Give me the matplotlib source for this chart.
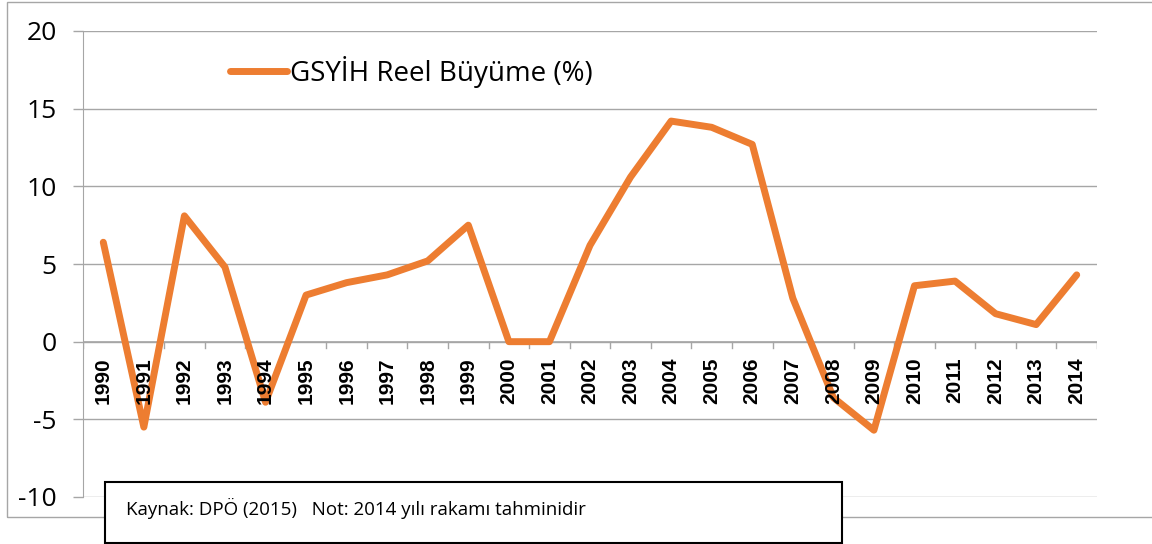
import matplotlib
matplotlib.use('Agg')
import matplotlib.pyplot as plt
from matplotlib.patches import Rectangle

# ---- data ----
years = [str(y) for y in range(1990, 2015)]
growth = [6.4, -5.5, 8.1, 4.8, -3.9, 3.0, 3.8, 4.3, 5.2, 7.5,
          0.0, 0.0, 6.2, 10.6, 14.2, 13.8, 12.7, 2.8, -3.6, -5.7,
          3.6, 3.9, 1.8, 1.1, 4.3]
y_ticks = [-10, -5, 0, 5, 10, 15, 20]
series_label = 'GSYİH Reel Büyüme (%)'
note = 'Kaynak: DPÖ (2015)   Not: 2014 yılı rakamı tahminidir'

W, H = 1152, 544
fig = plt.figure(figsize=(W / 100, H / 100), dpi=100)

# outer chart border
fig.patches.append(Rectangle((7 / W, 1 - 517 / H), 1.2, (517 - 2) / H,
                             transform=fig.transFigure, fill=False,
                             edgecolor='#a6a6a6', linewidth=1, zorder=0))

ax = fig.add_axes([83 / W, 1 - 497 / H, (1097 - 83) / W, (497 - 31) / H])
ax.set_facecolor('none')

x = list(range(len(years)))
line, = ax.plot(x, growth, color='#ed7d31', linewidth=5,
                solid_joinstyle='round', solid_capstyle='round', zorder=3)

ax.set_xlim(-0.5, len(years) - 0.5)
ax.set_ylim(-10, 20)
ax.set_yticks(y_ticks)
ax.set_yticklabels([str(v) for v in y_ticks], fontsize=19, family='Open Sans')
ax.tick_params(axis='y', length=7, width=1, color='#a6a6a6', pad=12)
ax.grid(axis='y', color='#a6a6a6', linewidth=1, zorder=0)

for s in ['top', 'right', 'bottom']:
    ax.spines[s].set_visible(False)
ax.spines['left'].set_color('#a6a6a6')

# category axis drawn at zero
ax.axhline(0, color='#a6a6a6', linewidth=1.2, zorder=2)
ax.set_xticks([])
for i in range(len(years) + 1):
    ax.plot([i - 0.5, i - 0.5], [0, -0.4], color='#a6a6a6', linewidth=1, zorder=2)
for i, yr in enumerate(years):
    ax.text(i, -1.0, yr, rotation=90, ha='center', va='top', fontsize=15,
            fontweight='bold', family='Liberation Sans', zorder=4)

fig.legend([line], [series_label], loc='center left',
           bbox_to_anchor=(230 / W, 1 - 72 / H), frameon=False,
           prop={'family': 'Open Sans', 'size': 20},
           handlelength=2.05, handletextpad=0.1, borderpad=0, borderaxespad=0)

# note box
fig.patches.append(Rectangle((105 / W, 1 - 543 / H), (842 - 105) / W, 61 / H,
                             transform=fig.transFigure, facecolor='white',
                             edgecolor='black', linewidth=1.5, zorder=5))
fig.text(126 / W, 1 - 508 / H, note, fontsize=13.5, family='Open Sans',
         va='center', ha='left', zorder=6)

fig.savefig('out.png', dpi=100)
